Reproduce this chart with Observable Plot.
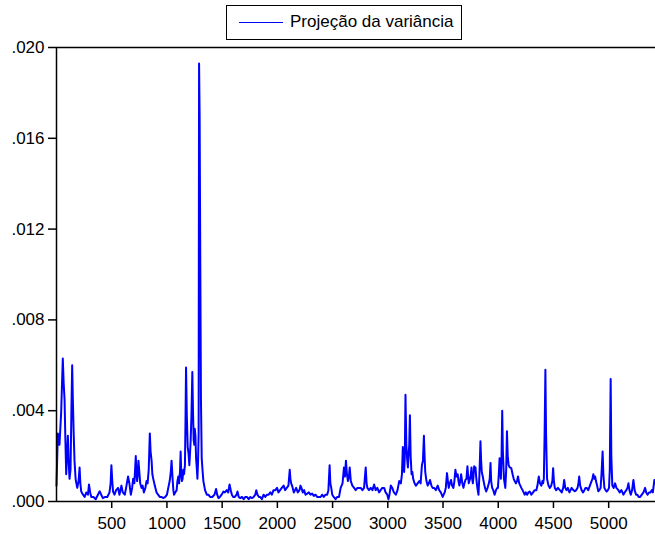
<!DOCTYPE html>
<html>
<head>
<meta charset="utf-8">
<script src="https://cdn.jsdelivr.net/npm/d3@7"></script>
<script src="https://cdn.jsdelivr.net/npm/@observablehq/plot@0.6"></script>
<style>
  html, body { margin: 0; padding: 0; background: #fff; }
  #wrap { position: relative; width: 655px; height: 534px; font-family: "Liberation Sans", Arial, sans-serif; }
  #legend { position: absolute; left: 226px; top: 5px; width: 234px; height: 33px; border: 1.5px solid #000; background: #fff; }
  #legend .sw { position: absolute; left: 12px; top: 16px; width: 44px; height: 0; border-top: 1.8px solid #0000ff; }
  #legend .tx { position: absolute; left: 63px; top: 6px; font-size: 17px; color: #000; white-space: nowrap; }
</style>
</head>
<body>
<div id="wrap">
  <div id="chart"></div>
  <div id="legend"><div class="sw"></div><div class="tx">Projeção da variância</div></div>
</div>
<script>
const seriesName = "Projeção da variância";
const obsIndex = [0,12,27,42,50,57,65,73,80,88,96,103,110,118,127,135,142,148,155,163,173,180,188,200,209,216,224,240,255,270,285,294,305,315,335,355,375,391,405,420,440,460,480,490,497,505,512,525,540,558,570,588,600,618,630,648,660,673,685,694,705,718,724,730,736,742,750,758,770,780,791,805,815,825,835,845,852,861,868,876,890,906,920,935,950,967,985,1000,1012,1025,1035,1042,1050,1058,1064,1075,1088,1095,1103,1110,1118,1124,1130,1136,1142,1148,1155,1163,1168,1173,1180,1188,1196,1203,1210,1215,1222,1230,1236,1242,1248,1252,1258,1264,1270,1276,1282,1287,1291,1296,1302,1308,1315,1322,1330,1345,1361,1375,1391,1410,1430,1445,1455,1467,1480,1495,1512,1525,1542,1555,1567,1578,1588,1600,1615,1630,1639,1650,1664,1680,1695,1710,1724,1740,1755,1770,1785,1800,1809,1820,1833,1845,1860,1875,1890,1906,1921,1936,1950,1965,1982,1997,2010,2025,2040,2057,2070,2085,2100,2112,2118,2125,2133,2149,2160,2170,2185,2200,2209,2218,2230,2242,2255,2270,2285,2300,2315,2330,2345,2360,2376,2391,2405,2420,2436,2451,2462,2473,2480,2488,2497,2510,2527,2540,2558,2573,2590,2603,2612,2621,2630,2639,2648,2655,2665,2679,2695,2709,2725,2739,2755,2770,2785,2800,2808,2815,2830,2845,2861,2876,2890,2905,2921,2935,2950,2967,2980,2995,3006,3015,3027,3040,3055,3073,3088,3103,3118,3128,3136,3142,3148,3154,3160,3168,3176,3182,3188,3194,3200,3207,3215,3222,3230,3242,3255,3270,3285,3297,3309,3318,3327,3333,3339,3350,3361,3372,3382,3395,3406,3420,3435,3452,3465,3480,3497,3515,3525,3536,3544,3552,3562,3573,3582,3594,3603,3612,3622,3633,3640,3648,3656,3664,3675,3685,3694,3703,3712,3721,3728,3733,3745,3752,3758,3764,3770,3776,3782,3788,3794,3800,3806,3814,3821,3830,3839,3845,3851,3860,3867,3880,3891,3903,3915,3923,3930,3936,3945,3955,3967,3980,3990,3997,4005,4012,4018,4024,4030,4036,4042,4052,4058,4064,4072,4079,4086,4094,4105,4118,4130,4140,4149,4160,4170,4179,4190,4200,4209,4220,4230,4239,4250,4262,4273,4285,4300,4315,4330,4345,4355,4367,4378,4391,4400,4406,4413,4420,4427,4433,4442,4455,4467,4480,4490,4497,4504,4512,4525,4540,4558,4575,4588,4597,4607,4618,4630,4645,4655,4664,4680,4694,4705,4718,4726,4733,4742,4755,4768,4780,4790,4800,4815,4830,4845,4853,4861,4870,4877,4885,4895,4906,4915,4927,4935,4945,4952,4961,4972,4982,4993,5003,5010,5018,5024,5033,5045,5058,5070,5088,5100,5115,5125,5133,5145,5160,5170,5179,5188,5200,5212,5224,5235,5248,5260,5272,5285,5300,5315,5330,5340,5352,5365,5378,5391,5400,5405,5414,5424];
const obsValue = [0.0007,0.0030,0.0025,0.0039,0.0052,0.0063,0.0052,0.0045,0.0028,0.0012,0.0021,0.0029,0.0018,0.0010,0.0014,0.0040,0.0060,0.0045,0.0031,0.0018,0.0010,0.0008,0.0006,0.0009,0.0015,0.0008,0.00044,0.0003,0.0002,0.0004,0.0003,0.00075,0.0004,0.0002,0.0002,0.0001,0.0003,0.00045,0.0003,0.00015,0.0002,0.0002,0.0004,0.0008,0.0016,0.0009,0.00044,0.0003,0.0005,0.0006,0.0003,0.0007,0.0004,0.0003,0.0006,0.0011,0.0008,0.0003,0.0006,0.001,0.0008,0.002,0.0012,0.0009,0.0012,0.0018,0.0013,0.0008,0.0006,0.0007,0.0004,0.0006,0.0009,0.0008,0.0014,0.0030,0.0022,0.0018,0.0012,0.0010,0.0007,0.0004,0.0003,0.0002,0.0002,0.00015,0.0002,0.0003,0.0006,0.0009,0.0013,0.0018,0.0011,0.0005,0.0003,0.0004,0.0005,0.0009,0.0011,0.0008,0.0013,0.0022,0.0012,0.0009,0.0010,0.0014,0.0012,0.0016,0.0035,0.0059,0.0038,0.0024,0.0021,0.0016,0.0022,0.0027,0.0038,0.0057,0.0040,0.0027,0.0025,0.0032,0.0029,0.0019,0.0015,0.0010,0.0018,0.0030,0.0193,0.0170,0.0105,0.0045,0.0019,0.0014,0.0009,0.0005,0.0003,0.0003,0.0002,0.0002,0.0003,0.00055,0.0003,0.00015,0.0002,0.0003,0.00044,0.0004,0.0005,0.0004,0.00075,0.0005,0.0003,0.0002,0.0002,0.0003,0.00044,0.0002,0.00015,0.0002,0.0001,0.0002,0.0002,0.0001,0.0002,0.00015,0.0002,0.0003,0.0005,0.0003,0.0002,0.0002,0.0001,0.0003,0.0002,0.0003,0.0003,0.0004,0.0003,0.0005,0.0005,0.0006,0.0004,0.0005,0.0006,0.0007,0.0005,0.0006,0.0007,0.0014,0.0010,0.0008,0.0007,0.0004,0.0005,0.0006,0.0004,0.0005,0.0007,0.0006,0.0004,0.0005,0.0003,0.00035,0.0004,0.0003,0.00035,0.00025,0.0003,0.0002,0.0002,0.0002,0.0003,0.0002,0.0003,0.0003,0.0005,0.0016,0.0008,0.0006,0.0003,0.0002,0.0001,0.0002,0.0002,0.0006,0.0008,0.0015,0.0011,0.0018,0.0012,0.0009,0.0011,0.0015,0.0009,0.0007,0.0006,0.0005,0.0006,0.0006,0.0006,0.0005,0.0006,0.0015,0.0008,0.0006,0.0005,0.0006,0.0005,0.00075,0.0005,0.0006,0.0004,0.0005,0.0006,0.0006,0.0004,0.0003,0.0001,0.0003,0.0007,0.0006,0.0004,0.0003,0.0005,0.0009,0.0008,0.0012,0.0024,0.0018,0.0013,0.0020,0.0047,0.0025,0.0018,0.0015,0.0020,0.0025,0.0038,0.0020,0.0012,0.0013,0.0010,0.0008,0.0007,0.0008,0.0009,0.0008,0.0016,0.0018,0.0029,0.0020,0.0013,0.0009,0.0007,0.0008,0.00095,0.0007,0.0006,0.0006,0.0005,0.0007,0.0005,0.0004,0.0002,0.0004,0.0006,0.00125,0.0009,0.0006,0.0008,0.00095,0.0007,0.0006,0.0009,0.0014,0.0011,0.0012,0.0009,0.0007,0.0009,0.0012,0.0008,0.0006,0.0008,0.00095,0.0010,0.00155,0.0011,0.0008,0.0010,0.0012,0.0015,0.0010,0.0008,0.0011,0.00155,0.0014,0.0015,0.0011,0.0008,0.0005,0.0003,0.0012,0.00265,0.0018,0.0013,0.0011,0.0009,0.0006,0.00044,0.0006,0.0008,0.0010,0.0017,0.0009,0.0006,0.0005,0.0003,0.0005,0.0006,0.0006,0.0012,0.0019,0.0014,0.0010,0.0020,0.0040,0.0022,0.0010,0.0008,0.0006,0.0014,0.0031,0.0020,0.0016,0.0015,0.00147,0.0012,0.0010,0.0009,0.0008,0.0009,0.0011,0.0008,0.0007,0.0006,0.0005,0.0004,0.0003,0.0004,0.0003,0.0004,0.00044,0.0003,0.0004,0.0005,0.0005,0.0007,0.0011,0.0008,0.0007,0.0009,0.0008,0.0010,0.0030,0.0058,0.0030,0.0010,0.0007,0.0006,0.0007,0.0009,0.00147,0.0009,0.0006,0.0005,0.0006,0.0005,0.0004,0.0006,0.00095,0.0006,0.0005,0.0006,0.0004,0.0005,0.0006,0.0005,0.00045,0.0005,0.0006,0.0008,0.0011,0.0007,0.0005,0.0004,0.0005,0.0006,0.0006,0.0005,0.0007,0.0009,0.0010,0.0012,0.0010,0.0011,0.0009,0.0007,0.00045,0.0005,0.0006,0.0012,0.0022,0.0012,0.0006,0.0005,0.00044,0.0005,0.0006,0.0014,0.0054,0.0020,0.0007,0.0006,0.0008,0.0006,0.0005,0.0004,0.0005,0.0004,0.0003,0.0004,0.0005,0.0006,0.0008,0.0005,0.0003,0.0005,0.00095,0.0005,0.0003,0.0003,0.0002,0.0002,0.0003,0.0004,0.0006,0.0004,0.0003,0.0004,0.0004,0.0005,0.0004,0.0006,0.00095,0.0008];
const xTicks = [500,1000,1500,2000,2500,3000,3500,4000,4500,5000];
const yTicks = [0,0.004,0.008,0.012,0.016,0.020];

const data = obsIndex.map((x, i) => ({x, y: obsValue[i]}));
const fmtY = v => d3.format(".3f")(v).replace(/^0/, "");

const chart = Plot.plot({
  width: 655,
  height: 534,
  marginLeft: 56,
  marginRight: 0,
  marginTop: 47,
  marginBottom: 33,
  style: {fontFamily: "'Liberation Sans', Arial, sans-serif", fontSize: "17px", color: "#000", background: "#fff", overflow: "visible"},
  x: {domain: [0, 5424]},
  y: {domain: [0, 0.02]},
  marks: [
    Plot.lineY(data, {x: "x", y: "y", stroke: "#0000ff", strokeWidth: 2, strokeLinejoin: "round"}),
    Plot.ruleY([0.02], {stroke: "#000", strokeWidth: 1.5}),
    Plot.ruleY([0], {stroke: "#000", strokeWidth: 1.5}),
    Plot.ruleX([0], {stroke: "#000", strokeWidth: 1.5}),
    Plot.axisY({ticks: yTicks, tickFormat: fmtY, tickSize: 8, tickPadding: 4, strokeWidth: 1.5, label: null, fontSize: 17}),
    Plot.axisX({ticks: xTicks, tickFormat: d => String(d), tickSize: 7, tickPadding: 8, strokeWidth: 1.5, label: null, fontSize: 17})
  ]
});
document.getElementById("chart").appendChild(chart);
</script>
</body>
</html>
